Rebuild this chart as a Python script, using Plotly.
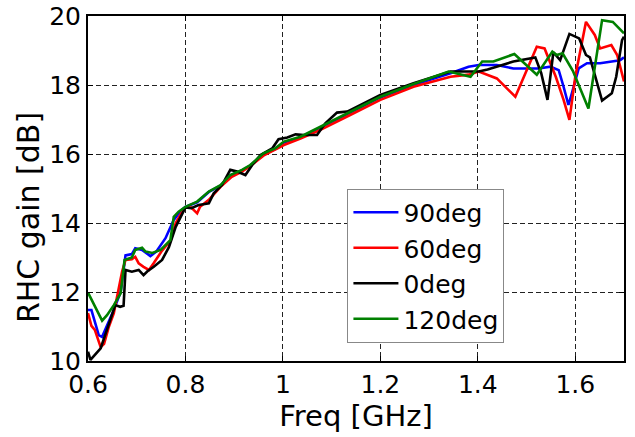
import plotly.graph_objects as go

# vertex positions, one list pair per curve
freq_90 = [0.600, 0.607, 0.615, 0.622, 0.629, 0.639, 0.650, 0.667, 0.677, 0.690, 0.697, 0.711,
           0.728, 0.740, 0.759, 0.776, 0.790, 0.800, 0.824, 0.848, 0.872, 0.892, 0.916, 0.933,
           0.960, 0.985, 1.002, 1.036, 1.077, 1.138, 1.200, 1.268, 1.344, 1.381, 1.402, 1.439,
           1.473, 1.525, 1.549, 1.566, 1.576, 1.586, 1.593, 1.607, 1.624, 1.651, 1.692, 1.700]
gain_90 = [11.48, 11.48, 11.09, 10.75, 10.70, 11.00, 11.38, 12.00, 13.06, 13.10, 13.27, 13.22,
           13.04, 13.17, 13.56, 14.09, 14.35, 14.47, 14.60, 14.90, 15.08, 15.38, 15.52, 15.66,
           16.00, 16.15, 16.33, 16.48, 16.76, 17.20, 17.64, 18.00, 18.34, 18.53, 18.58, 18.58,
           18.48, 18.48, 18.53, 18.43, 17.95, 17.42, 17.76, 18.48, 18.63, 18.63, 18.72, 18.80]

freq_60 = [0.600, 0.607, 0.614, 0.626, 0.633, 0.643, 0.653, 0.670, 0.677, 0.690, 0.697, 0.704,
           0.714, 0.725, 0.735, 0.752, 0.770, 0.780, 0.790, 0.800, 0.812, 0.824, 0.830, 0.848,
           0.872, 0.895, 0.916, 0.933, 0.962, 0.985, 1.002, 1.036, 1.077, 1.138, 1.200, 1.268,
           1.344, 1.381, 1.402, 1.439, 1.477, 1.521, 1.537, 1.560, 1.576, 1.588, 1.600, 1.622,
           1.640, 1.651, 1.674, 1.686, 1.700]
gain_60 = [11.39, 11.02, 10.90, 10.40, 10.50, 11.00, 11.39, 12.59, 12.93, 12.95, 13.02, 12.83,
           12.73, 12.64, 12.84, 13.20, 13.50, 14.00, 14.25, 14.45, 14.45, 14.28, 14.47, 14.67,
           15.05, 15.34, 15.49, 15.65, 15.97, 16.13, 16.26, 16.45, 16.70, 17.13, 17.57, 17.95,
           18.24, 18.30, 18.39, 18.19, 17.66, 19.11, 19.06, 18.24, 17.57, 16.99, 18.24, 19.83,
           19.45, 19.06, 19.16, 18.87, 18.10]

freq_0 = [0.600, 0.605, 0.626, 0.639, 0.650, 0.656, 0.666, 0.673, 0.677, 0.690, 0.704, 0.714,
          0.722, 0.735, 0.752, 0.766, 0.780, 0.793, 0.800, 0.812, 0.827, 0.840, 0.848, 0.858,
          0.875, 0.892, 0.906, 0.923, 0.937, 0.954, 0.978, 0.991, 1.009, 1.026, 1.043, 1.070,
          1.087, 1.111, 1.132, 1.200, 1.268, 1.344, 1.402, 1.420, 1.473, 1.518, 1.530, 1.543,
          1.555, 1.569, 1.588, 1.608, 1.622, 1.630, 1.655, 1.675, 1.684, 1.696, 1.700]
gain_0 = [10.27, 10.03, 10.37, 10.90, 11.38, 11.62, 11.57, 11.60, 12.64, 12.59, 12.64, 12.49,
          12.60, 12.73, 12.93, 13.30, 13.89, 14.28, 14.45, 14.43, 14.52, 14.55, 14.57, 14.86,
          15.10, 15.54, 15.49, 15.39, 15.68, 15.97, 16.16, 16.43, 16.48, 16.57, 16.55, 16.55,
          16.89, 17.20, 17.23, 17.71, 18.05, 18.39, 18.39, 18.45, 18.68, 18.80, 18.35, 17.57,
          18.95, 18.72, 19.48, 19.35, 18.87, 18.80, 17.55, 17.76, 18.24, 19.30, 19.40]

freq_120 = [0.600, 0.603, 0.612, 0.629, 0.639, 0.653, 0.667, 0.675, 0.690, 0.697, 0.711, 0.718,
            0.732, 0.749, 0.769, 0.776, 0.786, 0.800, 0.824, 0.848, 0.872, 0.892, 0.916, 0.933,
            0.960, 0.985, 1.002, 1.036, 1.077, 1.118, 1.138, 1.200, 1.268, 1.340, 1.385, 1.409,
            1.432, 1.475, 1.521, 1.553, 1.562, 1.574, 1.595, 1.627, 1.655, 1.677, 1.700]
gain_120 = [11.98, 11.90, 11.67, 11.17, 11.33, 11.62, 11.96, 12.93, 13.00, 13.22, 13.28, 13.17,
            13.13, 13.22, 13.50, 14.18, 14.33, 14.47, 14.62, 14.91, 15.10, 15.39, 15.54, 15.68,
            16.02, 16.17, 16.36, 16.50, 16.79, 17.08, 17.23, 17.66, 18.03, 18.39, 18.24, 18.68,
            18.68, 18.90, 18.30, 18.97, 18.87, 18.92, 18.41, 17.32, 19.88, 19.83, 19.50]

x_ticks = [0.6, 0.8, 1.0, 1.2, 1.4, 1.6]
x_tick_text = ["0.6", "0.8", "1", "1.2", "1.4", "1.6"]
y_ticks = [10, 12, 14, 16, 18, 20]

series = [
    ("90deg", freq_90, gain_90, "#0000ff"),
    ("60deg", freq_60, gain_60, "#ff0000"),
    ("0deg", freq_0, gain_0, "#000000"),
    ("120deg", freq_120, gain_120, "#008000"),
]

fig = go.Figure()
for name, xs, ys, color in series:
    fig.add_trace(go.Scatter(x=xs, y=ys, name=name, mode="lines",
                             line=dict(color=color, width=2.6)))

font_main = "DejaVu Sans, Arial, sans-serif"
axis_common = dict(
    showline=True, linecolor="black", linewidth=2, mirror="ticks",
    ticks="inside", ticklen=5, tickwidth=1, tickcolor="black",
    showgrid=True, gridcolor="#222222", gridwidth=1, griddash="5px,3px",
    zeroline=False, automargin=False, ticklabeloverflow="allow",
    tickfont=dict(size=25, color="black", family=font_main),
)

fig.update_layout(
    width=635, height=437,
    margin=dict(l=88, r=11, t=16, b=76),
    paper_bgcolor="white", plot_bgcolor="white",
    font=dict(family=font_main, color="black"),
    xaxis=dict(range=[0.6, 1.7], tickvals=x_ticks, ticktext=x_tick_text, ticklabelstandoff=0,
               title=dict(text="Freq [GHz]", font=dict(size=29), standoff=0),
               **axis_common),
    yaxis=dict(range=[10, 20], tickvals=y_ticks, ticklabelstandoff=0, **axis_common),
    legend=dict(x=0.484, y=0.50, xanchor="left", yanchor="top",
                bgcolor="white", bordercolor="#888888", borderwidth=1, itemwidth=45,
                font=dict(size=25, color="black"), tracegroupgap=0),
    showlegend=True,
)

# y title sits a little below the axis middle in the reference
fig.add_annotation(text="RHC gain [dB]", textangle=-90, xref="paper", yref="paper",
                   x=-0.112, y=0.417, xanchor="center", yanchor="middle",
                   showarrow=False, font=dict(size=30, color="black"))

# drop the page's default 8px body margin so the figure sits at the window corner
fig.write_html("out.html", config={"displayModeBar": False},
               post_script="document.body.style.margin = '0';")
